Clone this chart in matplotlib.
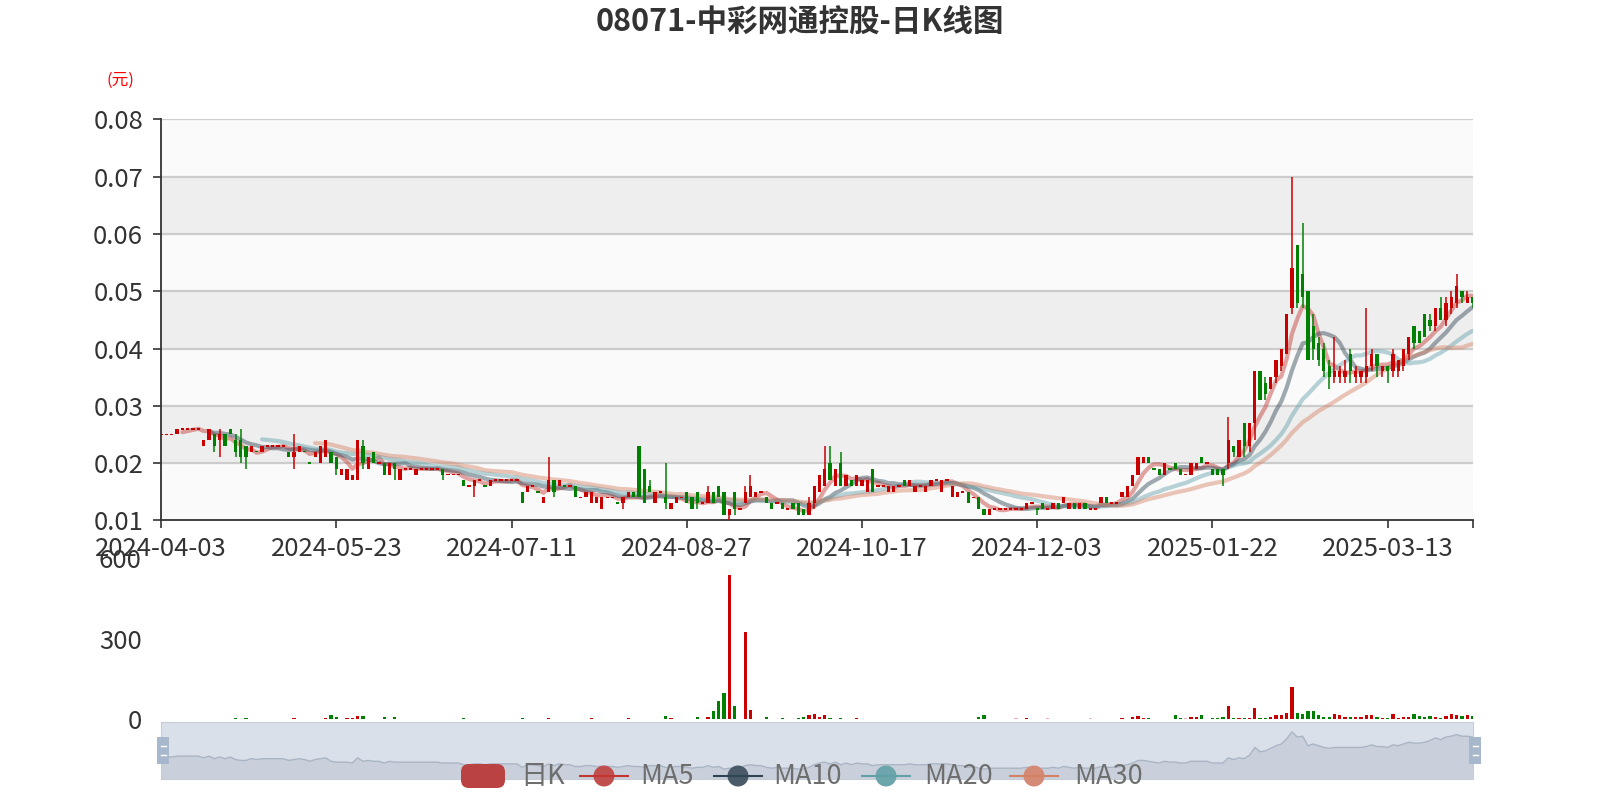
import numpy as np
import pandas as pd
import matplotlib
matplotlib.use('Agg')
import matplotlib.pyplot as plt
from matplotlib.patches import Rectangle, FancyBboxPatch, Circle

plt.rcParams['font.family'] = ['Noto Sans CJK SC', 'DejaVu Sans']

title = '08071-中彩网通控股-日K线图'
unit_label = '(元)'
tick_labels = ['2024-04-03', '2024-05-23', '2024-07-11', '2024-08-27',
               '2024-10-17', '2024-12-03', '2025-01-22', '2025-03-13']
legend_names = ['日K', 'MA5', 'MA10', 'MA20', 'MA30']

# prices in units of 0.001 元
open_ = [25,25,25,25,26,26,26,26,23,24, 25,24,25,26,24,24,23,22,22,22,
         23,23,23,23,22,21,22,22,20,21, 20,21,22,21,18,17,17,17,23,19,
         22,20,20,18,20,17,19,19,18,19, 19,19,19,19,18,18,18,17,16,16,
         17,16,16,17,17,17,17,17,15,15, 16,15,13,15,17,16,16,16,16,14,
         14,13,13,12,14,14,13,13,14,15, 23,19,16,13,15,14,12,13,14,15,
         14,15,13,13,15,16,15,11,15,12, 13,14,14,15,14,13,13,13,12,13,
         13,12,11,13,15,16,20,16,20,16, 17,16,16,15,19,16,16,15,15,16,
         17,16,15,16,15,16,17,15,17,14, 14,15,15,14,14,12,11,12,12,12,
         12,12,12,12,13,12,13,12,12,13, 13,12,13,12,13,12,12,13,14,13,
         13,14,14,16,18,20,21,19,19,18, 19,20,19,18,18,19,21,20,19,19,
         19,20,23,21,27,23,27,36,34,33, 35,37,39,47,58,53,50,44,41,40,
         37,35,35,35,39,35,35,35,37,39, 36,37,36,36,37,39,44,43,46,45,
         44,47,45,47,48,50,48,49]
close = [25,25,25,26,26,26,26,26,24,26, 23,25,23,25,22,21,21,23,22,23,
         23,23,23,23,21,22,23,22,20,22, 23,24,20,19,19,19,18,24,20,21,
         20,20,18,20,19,19,19,19,19,19, 19,19,19,18,18,18,18,16,16,17,
         17,16,17,17,17,17,17,17,13,16, 16,15,14,17,15,17,16,16,14,14,
         15,15,14,14,14,14,13,14,15,14, 14,13,15,15,15,13,13,14,14,13,
         12,13,13,15,13,14,11,12,12,12, 15,16,15,15,13,12,13,12,12,12,
         11,11,13,16,18,19,17,19,16,18, 16,18,17,17,15,16,16,16,16,16,
         16,17,16,16,16,17,17,17,17,16, 15,15,13,14,12,11,12,12,12,12,
         12,12,12,13,13,12,12,12,13,12, 14,13,12,13,12,12,12,14,13,13,
         13,15,16,18,21,21,20,19,18,20, 19,19,18,18,20,20,20,20,18,18,
         18,24,22,24,23,27,36,31,32,35, 38,40,46,54,48,49,38,40,38,36,
         35,36,36,36,36,36,36,37,39,37, 37,36,39,38,40,42,41,41,42,44,
         47,45,48,49,51,49,49,48]
low = [25,25,25,25,26,26,26,26,23,24, 22,21,23,25,21,20,19,22,22,22,
       23,23,23,23,21,19,22,22,20,21, 20,21,20,18,18,17,17,17,19,19,
       20,20,18,18,17,17,19,19,18,19, 19,19,19,17,18,18,18,16,16,14,
       17,16,16,17,17,17,17,17,13,15, 16,15,13,15,14,16,16,16,14,14,
       14,13,13,12,14,14,13,12,14,14, 14,13,15,13,15,12,12,13,14,13,
       12,12,13,13,13,14,11,10,11,12, 13,14,14,15,13,12,13,12,12,12,
       11,11,11,12,15,16,17,16,16,16, 16,16,16,15,15,16,16,15,15,16,
       16,16,15,16,15,16,17,15,17,14, 14,15,13,14,12,11,11,12,12,12,
       12,12,12,12,13,11,12,12,12,12, 13,12,12,12,12,12,12,13,13,13,
       13,14,14,16,18,20,20,19,18,18, 19,19,18,18,18,19,20,20,18,18,
       16,19,21,21,21,22,24,31,31,33, 34,36,39,46,47,47,38,38,37,35,
       33,34,34,34,34,34,34,34,36,35, 35,34,35,35,36,38,40,41,42,43,
       43,45,44,46,47,48,48,47]
high = [25,25,25,26,26,26,26,26,24,26, 25,26,25,26,25,26,23,23,22,23,
        23,23,23,23,22,25,23,22,20,22, 23,24,22,21,19,19,18,24,24,21,
        22,20,20,20,20,19,19,19,19,19, 19,19,19,19,18,18,18,17,16,17,
        17,16,17,17,17,17,17,17,15,16, 16,15,14,21,17,17,16,16,16,14,
        15,15,14,14,14,14,13,14,15,15, 23,19,17,15,15,20,13,14,14,15,
        14,15,13,16,15,16,15,12,15,12, 16,18,15,15,14,13,13,13,12,13,
        13,12,14,16,18,23,23,19,22,18, 17,18,17,17,19,16,16,16,16,16,
        17,17,16,16,16,17,17,17,17,16, 15,15,15,14,14,12,12,12,12,12,
        12,12,12,13,13,12,13,12,13,13, 14,13,13,13,13,12,12,14,14,13,
        13,15,16,18,21,21,21,19,19,20, 19,20,19,18,20,20,21,20,19,19,
        19,28,23,24,27,27,36,36,35,35, 38,40,46,70,58,62,50,46,42,41,
        38,42,37,38,40,37,36,47,40,39, 37,37,40,38,40,42,44,43,46,46,
        47,49,49,50,53,50,50,49]
volume = [1,1,1,2,1,1,1,1,2,2, 3,2,2,3,5,2,5,2,1,2,
          1,1,1,2,2,5,2,1,2,2, 3,4,15,10,3,5,4,12,12,3,
          2,1,8,2,8,2,1,1,2,1, 1,1,1,3,1,1,1,4,1,2,
          1,1,2,1,1,1,1,1,5,2, 1,1,2,6,2,2,1,1,2,1,
          2,4,2,1,1,1,1,2,5,2, 3,2,2,2,1,12,7,2,1,2,
          2,8,2,8,31,70,99,536,50,3, 326,35,3,2,10,2,1,4,1,2,
          6,8,15,20,8,15,4,3,6,2, 2,4,2,1,3,1,1,2,1,2,
          2,2,1,2,1,3,1,2,2,3, 2,2,3,2,8,15,2,1,2,1,
          1,4,2,4,1,2,3,4,2,3, 2,2,2,2,2,4,2,3,2,1,
          1,6,3,8,12,6,4,2,3,3, 2,15,5,4,8,10,15,3,5,6,
          8,50,5,6,7,6,41,6,6,8, 15,18,25,122,25,20,30,30,15,10,
          8,20,15,10,10,10,10,15,15,10, 5,5,20,5,8,10,20,12,10,12,
          10,5,12,20,15,12,15,12]

UP, DOWN = '#c80000', '#008000'
MA_COLORS = ['#c23531', '#2f4554', '#61a0a8', '#d48265']
MA_ICON = ['#c05050', '#4a5a68', '#6ca5ac', '#d48a74']

o = np.array(open_) / 1000
c = np.array(close) / 1000
lo = np.array(low) / 1000
hi = np.array(high) / 1000
vol = np.array(volume, dtype=float)
N = len(c)
x = np.arange(N)

# echarts sign rule
sign = np.ones(N)
for i in range(N):
    if c[i] > o[i]:
        sign[i] = 1
    elif c[i] < o[i]:
        sign[i] = -1
    else:
        sign[i] = 1 if (i == 0 or c[i - 1] <= c[i]) else -1
cols = [UP if s > 0 else DOWN for s in sign]

W, H = 1600, 800
fig = plt.figure(figsize=(16, 8), dpi=100)
fig.patch.set_facecolor('white')

def fa(x0, y0, x1, y1):
    return [x0 / W, 1 - y1 / H, (x1 - x0) / W, (y1 - y0) / H]

L, R = 161.2, 1472.5
ax = fig.add_axes(fa(L, 119.4, R, 520.4))
ax.set_xlim(0, N - 1)
ax.set_ylim(0.01, 0.08)
for k in range(1, 8):
    ax.axhspan(k / 100, (k + 1) / 100, color='#eeeeee' if k % 2 == 0 else '#fafafa', zorder=0, lw=0)
for k in range(2, 9):
    ax.axhline(k / 100, color='#cccccc', lw=1.6, zorder=1)

# MA lines
cs = pd.Series(c)
for n, col in zip([5, 10, 20, 30], MA_COLORS):
    ma = cs.rolling(n).mean()
    ax.plot(x, ma, color=col, lw=3.0, alpha=0.45, zorder=2,
            solid_capstyle='round', solid_joinstyle='round')

# candles
ax.vlines(x, lo, hi, colors=cols, lw=1.1, zorder=3)
minh = 0.00028
body_h = np.maximum(np.abs(c - o), minh)
body_b = np.where(np.abs(c - o) < minh, np.minimum(o, c) - minh / 2, np.minimum(o, c))
ax.bar(x, body_h, bottom=body_b, width=0.62, color=cols, lw=0, zorder=4)

for s in ['top', 'right']:
    ax.spines[s].set_visible(False)
ax.spines['left'].set_color('#333333')
ax.spines['bottom'].set_color('#333333')
ax.spines['left'].set_linewidth(1.3)
ax.spines['bottom'].set_linewidth(1.3)
ax.set_yticks([k / 100 for k in range(1, 9)])
ax.set_yticklabels(['0.0%d' % k for k in range(1, 9)])
tick_pos = list(range(0, N, 33))[:len(tick_labels)]
ax.set_xticks(tick_pos)
ax.set_xticklabels(tick_labels)
ax.set_xticks([N - 1], minor=True)
ax.tick_params(axis='both', labelsize=18.5, colors='#333333', length=6, width=1.2)
ax.tick_params(axis='x', which='minor', length=6, width=1.2, colors='#333333')
ax.tick_params(axis='y', pad=7)
ax.tick_params(axis='x', pad=5)

# volume
axv = fig.add_axes(fa(L, 558.0, R, 719.4))
axv.set_xlim(0, N - 1)
axv.set_ylim(0, 600)
vcols = []
for i in range(N):
    if c[i] == o[i]:
        vcols.append('#f2b5b5' if sign[i] > 0 else '#9fd09f')
    else:
        vcols.append(cols[i])
axv.bar(x, vol, width=0.62, color=vcols, lw=0)
for s in ['top', 'right', 'bottom', 'left']:
    axv.spines[s].set_visible(False)
axv.set_xticks([])
axv.set_yticks([0, 300, 600])
axv.tick_params(axis='y', labelsize=18.5, colors='#333333', length=0, pad=14)

# data zoom slider
axs = fig.add_axes(fa(L, 721.5, R, 778.6))
axs.set_xlim(0, N - 1)
axs.set_ylim(0, 0.066)
axs.set_facecolor('#dae0ea')
axs.fill_between(x, c, 0, color='#c9d0dc', lw=0)
axs.plot(x, c, color='#a9b4c4', lw=1)
for s in axs.spines.values():
    s.set_color('#c5cdd8')
axs.set_xticks([])
axs.set_yticks([])

# overlay for title, legend, handles
ov = fig.add_axes([0, 0, 1, 1], zorder=10)
ov.set_xlim(0, W)
ov.set_ylim(H, 0)
ov.axis('off')
ov.patch.set_alpha(0)
ov.text(800, 23, title, ha='center', va='center', fontsize=22, fontweight='bold', color='#333333')
ov.text(120, 80, unit_label, ha='center', va='center', fontsize=12, color='#ff0000')

for hx in (163, 1475):
    ov.add_patch(Rectangle((hx - 6, 737), 12, 27, color='#a8b8cc', lw=0))
    ov.plot([hx - 2.5, hx + 2.5], [746, 746], color='white', lw=1)
    ov.plot([hx - 2.5, hx + 2.5], [755, 755], color='white', lw=1)

ly = 776
ov.add_patch(FancyBboxPatch((461, 764), 44, 24, boxstyle='round,pad=0,rounding_size=8',
                            color='#bb4242', lw=0))
ov.text(520, ly, legend_names[0], ha='left', va='center', fontsize=19.5, color='#6e6e6e')
icon_x = [580, 714, 862, 1010]
text_x = [640, 773, 924, 1074]
for k in range(4):
    x0 = icon_x[k]
    ov.plot([x0, x0 + 48], [ly, ly], color=MA_COLORS[k], lw=1.5)
    ov.add_patch(Circle((x0 + 24, ly), 10.5, color=MA_ICON[k], lw=0))
    ov.text(text_x[k], ly, legend_names[k + 1], ha='left', va='center', fontsize=19.5, color='#6e6e6e')

fig.savefig('out.png', dpi=100, facecolor='white')
